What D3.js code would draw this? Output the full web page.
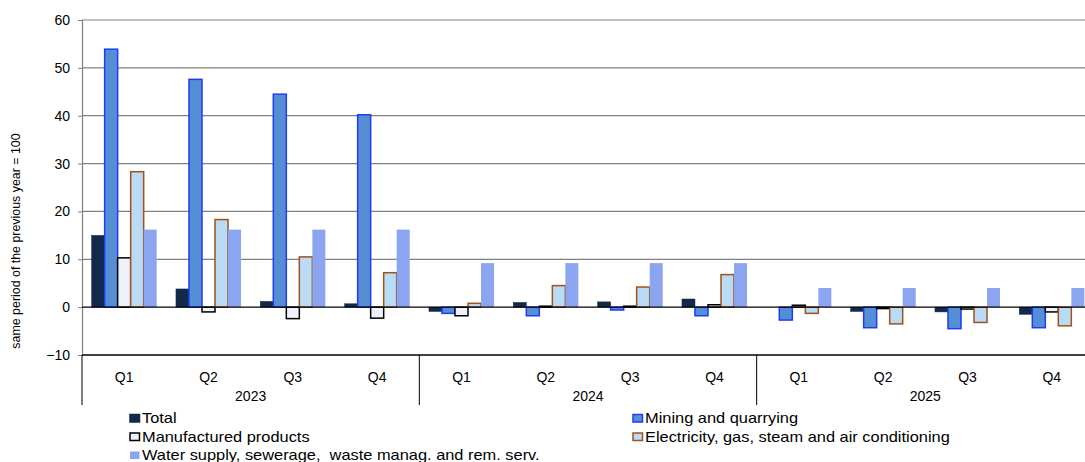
<!DOCTYPE html>
<html>
<head>
<meta charset="utf-8">
<script src="https://cdn.jsdelivr.net/npm/d3@7"></script>
<style>
  html, body { margin: 0; padding: 0; background: #fff; }
  svg { display: block; font-family: "Liberation Sans", Arial, sans-serif; }
</style>
</head>
<body>
<svg id="chart" width="1085" height="462"></svg>
<script>
// ---- data ----
const years = ["2023", "2024", "2025"];
const quarters = ["Q1", "Q2", "Q3", "Q4"];
const seriesNames = [
  "Total",
  "Mining and quarrying",
  "Manufactured products",
  "Electricity, gas, steam and air conditioning",
  "Water supply, sewerage,  waste manag. and rem. serv."
];
const total         = [15.0, 3.8, 1.2, 0.7,  -0.9, 1.0, 1.1, 1.7,   0.0, -0.9, -1.0, -1.5];
const mining        = [53.9, 47.6, 44.5, 40.2, -1.3, -1.8, -0.6, -1.8, -2.7, -4.3, -4.5, -4.3];
const manufactured  = [10.3, -1.0, -2.4, -2.3, -1.8, 0.2, 0.2, 0.5,   0.4, -0.3, -0.4, -1.0];
const electricity   = [28.3, 18.3, 10.5, 7.2,   0.8, 4.5, 4.2, 6.8,  -1.3, -3.5, -3.2, -3.9];
const water         = [16.2, 16.2, 16.2, 16.2,  9.2, 9.2, 9.2, 9.2,   4.0, 4.0, 4.0, 4.0];
const yTicks = [-10, 0, 10, 20, 30, 40, 50, 60];
const yAxisTitle = "same period of the previous year = 100";

// ---- styles ----
const styles = [
  { fill: "#13294a", stroke: "#13294a", sw: 0.5 },
  { fill: "#558ed5", stroke: "#1f3cf5", sw: 1.5 },
  { fill: "#eef3fb", stroke: "#000000", sw: 1.5 },
  { fill: "#b9dbf5", stroke: "#a0521a", sw: 1.5 },
  { fill: "#8ca5f0", stroke: "none",    sw: 0 }
];
const seriesValues = [total, mining, manufactured, electricity, water];

const svg = d3.select("#chart");
const mLeft = 82, mRight = 1094, mTop = 20, mBottom = 355;

const categories = [];
years.forEach(yr => quarters.forEach(q => categories.push(yr + "-" + q)));

const x0 = d3.scaleBand().domain(categories).range([mLeft, mRight]).padding(0);
const gw = x0.bandwidth();
const x1 = d3.scaleBand().domain(d3.range(seriesNames.length)).range([0, gw]).paddingInner(0).paddingOuter(0.74);
const yScale = d3.scaleLinear().domain([-10, 60]).range([mBottom, mTop]);

// gridlines
svg.append("g").selectAll("line").data(yTicks.filter(t => t > 0)).join("line")
  .attr("x1", mLeft).attr("x2", mRight)
  .attr("y1", d => yScale(d)).attr("y2", d => yScale(d))
  .attr("stroke", "#808080").attr("stroke-width", 1.2);

// y axis
const yAxis = d3.axisLeft(yScale).tickValues(yTicks).tickSize(4).tickPadding(8).tickFormat(d3.format("d"));
const ya = svg.append("g").attr("transform", `translate(${mLeft},0)`).call(yAxis);
ya.select(".domain").attr("stroke", "#808080").attr("stroke-width", 1.2);
ya.selectAll(".tick line").attr("stroke", "#808080");
ya.selectAll(".tick text").attr("font-size", 14).attr("fill", "#000")
  .attr("font-family", "Liberation Sans, Arial, sans-serif");

// bars
const groups = svg.append("g").selectAll("g").data(categories).join("g")
  .attr("transform", d => `translate(${x0(d)},0)`);
groups.each(function(cat, ci) {
  const g = d3.select(this);
  seriesValues.forEach((vals, si) => {
    const v = vals[ci];
    const st = styles[si];
    g.append("rect")
      .attr("x", x1(si))
      .attr("width", x1.bandwidth())
      .attr("y", yScale(Math.max(0, v)))
      .attr("height", Math.abs(yScale(v) - yScale(0)))
      .attr("fill", st.fill)
      .attr("stroke", st.stroke)
      .attr("stroke-width", st.sw);
  });
});

// zero line
svg.append("line").attr("x1", mLeft).attr("x2", mRight)
  .attr("y1", yScale(0)).attr("y2", yScale(0)).attr("stroke", "#000").attr("stroke-width", 1.3);
// bottom axis line
svg.append("line").attr("x1", mLeft).attr("x2", mRight)
  .attr("y1", yScale(-10)).attr("y2", yScale(-10)).attr("stroke", "#000").attr("stroke-width", 1.5);

// x labels (quarters)
svg.append("g").selectAll("text").data(categories).join("text")
  .attr("x", d => x0(d) + gw / 2).attr("y", 382)
  .attr("text-anchor", "middle").attr("font-size", 14)
  .text(d => d.split("-")[1]);

// year labels and separators
const yearScale = d3.scaleBand().domain(years).range([mLeft, mRight]);
svg.append("g").selectAll("text").data(years).join("text")
  .attr("x", d => yearScale(d) + yearScale.bandwidth() / 2).attr("y", 401)
  .attr("text-anchor", "middle").attr("font-size", 14)
  .text(d => d);
svg.append("g").selectAll("line").data(years.concat(["end"])).join("line")
  .attr("x1", (d, i) => mLeft + i * yearScale.bandwidth())
  .attr("x2", (d, i) => mLeft + i * yearScale.bandwidth())
  .attr("y1", mBottom).attr("y2", 405)
  .attr("stroke", "#000").attr("stroke-width", 1);

// y axis title
svg.append("text")
  .attr("transform", `translate(20,241) rotate(-90)`)
  .attr("text-anchor", "middle").attr("font-size", 12.4)
  .text(yAxisTitle);

// legend
const legendPos = [
  { x: 129, y: 423 }, { x: 632, y: 423 },
  { x: 129, y: 441.5 }, { x: 632, y: 441.5 },
  { x: 129, y: 460 }
];
const lg = svg.append("g").selectAll("g").data(seriesNames).join("g")
  .attr("transform", (d, i) => `translate(${legendPos[i].x},${legendPos[i].y})`);
lg.append("rect")
  .attr("x", 1).attr("y", -8.5).attr("width", 9.5).attr("height", 7.5)
  .attr("fill", (d, i) => styles[i].fill)
  .attr("stroke", (d, i) => styles[i].stroke === "none" ? "none" : styles[i].stroke)
  .attr("stroke-width", (d, i) => styles[i].sw ? 1.5 : 0);
lg.append("text")
  .attr("transform", "translate(13,0) scale(1.093,1)")
  .attr("font-size", 15)
  .style("white-space", "pre")
  .attr("xml:space", "preserve")
  .text(d => d);
</script>
</body>
</html>
